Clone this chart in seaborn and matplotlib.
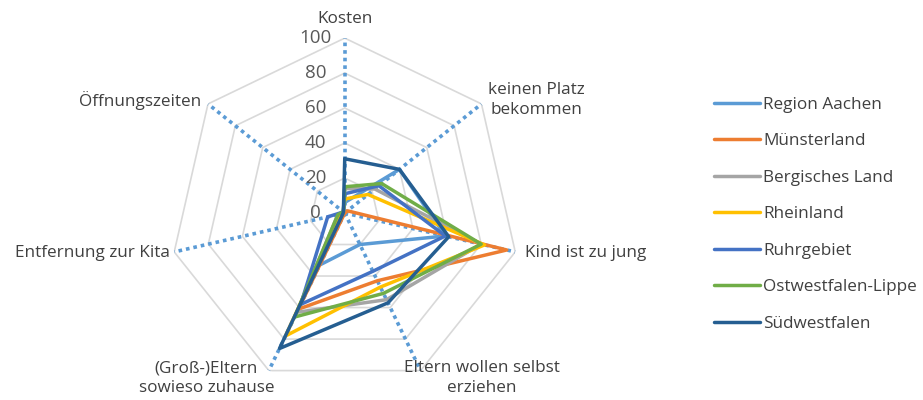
import numpy as np
import pandas as pd
import seaborn as sns
import matplotlib
matplotlib.use('Agg')
import matplotlib.pyplot as plt
from matplotlib.transforms import offset_copy

sns.set_style('white')
plt.rcParams['font.family'] = ['Open Sans', 'DejaVu Sans']

# data
categories = ['Kosten', 'keinen Platz\nbekommen', 'Kind ist zu jung',
              'Eltern wollen selbst\nerziehen', '(Groß-)Eltern\nsowieso zuhause',
              'Entfernung zur Kita', 'Öffnungszeiten']
regions = ['Region Aachen', 'Münsterland', 'Bergisches Land', 'Rheinland',
           'Ruhrgebiet', 'Ostwestfalen-Lippe', 'Südwestfalen']
region_aachen = [6, 40, 59, 20, 33, 3, 1]
muensterland = [0, 2, 95, 43, 61, 0, 0]
bergisches_land = [14, 22, 80, 55, 63, 4, 1]
rheinland = [8, 17, 82, 47, 78, 2, 1]
ruhrgebiet = [11, 25, 59, 37, 58, 10, 1]
owl = [15, 27, 80, 51, 66, 4, 1]
suedwestfalen = [31, 40, 61, 57, 86, 1, 1]
ticks = [0, 20, 40, 60, 80, 100]

colors = ['#5B9BD5', '#ED7D31', '#A5A5A5', '#FFC000', '#4472C4', '#70AD47', '#255E91']
series = [region_aachen, muensterland, bergisches_land, rheinland, ruhrgebiet, owl, suedwestfalen]

n = len(categories)
angles = np.arange(n) * 2 * np.pi / n
closed = np.append(angles, 2 * np.pi)

# long table, each polygon closed back to its first value
rows = []
for name, vals in zip(regions, series):
    for th, v in zip(closed, list(vals) + [vals[0]]):
        rows.append({'region': name, 'theta': th, 'value': v})
df = pd.DataFrame(rows)

fig = plt.figure(figsize=(9.23, 4.0), dpi=100)
ax = fig.add_axes([0.184, 0.030, 0.379, 0.875], projection='polar')
ax.set_theta_zero_location('N')
ax.set_theta_direction(-1)
ax.set_ylim(0, 100)
ax.grid(False)
ax.spines['polar'].set_visible(False)
ax.set_xticks([])
ax.set_yticks([])

# heptagon grid
for t in ticks[1:]:
    ax.plot(closed, [t] * (n + 1), color='#D9D9D9', lw=1.2, zorder=1)
# dotted spokes
for a in angles:
    ax.plot([a, a], [0, 100], color='#5B9BD5', lw=2.6, ls=(0, (1, 1.1)), zorder=2)

sns.lineplot(data=df, x='theta', y='value', hue='region', hue_order=regions,
             palette=colors, sort=False, estimator=None, units='region',
             lw=2.5, ax=ax, legend=True, zorder=3)
ax.set_xlabel('')
ax.set_ylabel('')

# radial tick labels
tick_tr = offset_copy(ax.transData, fig=fig, x=-29, y=0, units='dots')
for t in ticks:
    ax.text(0, t, str(t), transform=tick_tr, ha='center', va='center',
            fontsize=13.5, color='#595959')

# category labels (angle in degrees, radius, alignment)
label_pos = [(0, 111, 'center'), (59.5, 127, 'center'), (102.5, 105.5, 'left'),
             (140.2, 122.7, 'center'), (219.9, 123.2, 'center'),
             (257.1, 102.4, 'right'), (298.9, 133.6, 'center')]
for cat, (deg, r, ha) in zip(categories, label_pos):
    ax.text(np.deg2rad(deg), r, cat, ha=ha, va='center', fontsize=12.3,
            color='#404040', clip_on=False, linespacing=1.3)

handles, labels = ax.get_legend_handles_labels()
ax.get_legend().remove()
fig.legend(handles, labels, loc='upper left', bbox_to_anchor=(0.7645, 0.78),
           frameon=False, fontsize=12.3, handlelength=2.7, handletextpad=0.18,
           labelspacing=1.2, borderpad=0, labelcolor='#404040')

fig.savefig('out.png', dpi=100)
